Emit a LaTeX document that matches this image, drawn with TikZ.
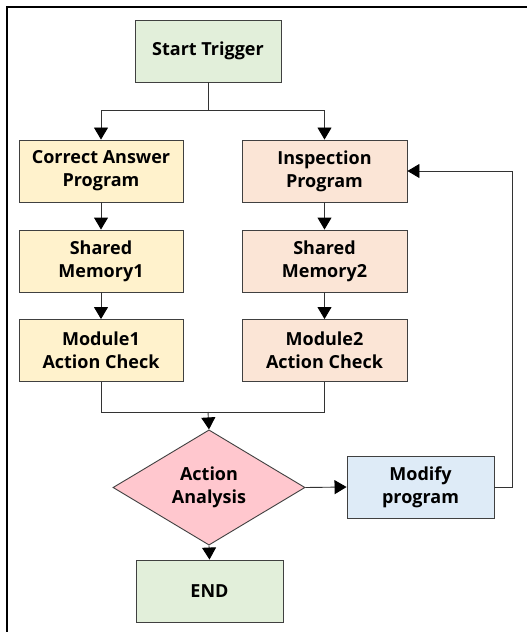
\documentclass[tikz,border=0pt]{standalone}
\usepackage{fontspec}
\setmainfont{Open Sans}
\usetikzlibrary{shapes.geometric,arrows.meta}
\definecolor{startgreen}{HTML}{E2EFDA}
\definecolor{leftyellow}{HTML}{FFF2CC}
\definecolor{rightpeach}{HTML}{FBE5D6}
\definecolor{modblue}{HTML}{DEEBF7}
\definecolor{decpink}{HTML}{FFC7CE}
\definecolor{edgegray}{HTML}{404040}
\tikzset{
  labelfont/.style={font=\fontsize{18bp}{23bp}\selectfont\bfseries},
  box/.style={draw=edgegray, line width=0.9bp, minimum height=62bp, inner sep=0pt,
    align=center, labelfont},
  decision/.style={diamond, draw=edgegray, line width=0.9bp, minimum width=192bp,
    minimum height=85bp, inner sep=0pt, align=center, fill=decpink, labelfont},
  flow/.style={draw=black!80, line width=0.9bp},
  arr/.style={flow, -{Triangle[width=14bp,length=12bp,fill=black,color=black]}},
}
\begin{document}
\begin{tikzpicture}[x=1bp, y=-1bp]
  \useasboundingbox (0,0) rectangle (527,632);
  % frame edges along the top and left
  \draw[line width=1.3bp] (7,632) -- (7,7) -- (527,7);

  \node[box, fill=startgreen, minimum width=146bp] (start) at (208,51) {Start Trigger};

  \node[box, fill=leftyellow, minimum width=164bp] (correct) at (101,171) {Correct Answer\\Program};
  \node[box, fill=leftyellow, minimum width=164bp] (mem1) at (101,261) {Shared\\Memory1};
  \node[box, fill=leftyellow, minimum width=164bp] (mod1) at (101,350.5) {Module1\\Action Check};

  \node[box, fill=rightpeach, minimum width=165bp] (insp) at (324.5,171) {Inspection\\Program};
  \node[box, fill=rightpeach, minimum width=165bp] (mem2) at (324.5,261) {Shared\\Memory2};
  \node[box, fill=rightpeach, minimum width=165bp] (mod2) at (324.5,350.5) {Module2\\Action Check};

  \node[decision] (analysis) at (209,487.5) {Action\\Analysis};
  \node[box, fill=modblue, minimum width=147bp] (modify) at (420.5,487) {Modify\\program};
  \node[box, fill=startgreen, minimum width=147bp] (end) at (209.5,591) {END};

  \coordinate (split) at (208,110);
  \coordinate (merge) at (208,412);
  \coordinate (loop) at (512,487);

  % fan-out from the trigger
  \draw[flow] (start.south) -- (split);
  \draw[arr] (split) -| (correct.north);
  \draw[arr] (split) -| (insp.north);

  % the two chains
  \draw[arr] (correct) -- (mem1);
  \draw[arr] (mem1) -- (mod1);
  \draw[arr] (insp) -- (mem2);
  \draw[arr] (mem2) -- (mod2);

  % merge into the analysis step
  \draw[flow] (mod1.south) |- (merge);
  \draw[flow] (mod2.south) |- (merge);
  \draw[arr] (merge) -- (analysis.north);

  \draw[arr] (analysis.east) -- (modify.west);
  \draw[arr] (analysis.south) -- (end.north);

  % feedback loop back to the inspection program
  \draw[arr] (modify.east) -- (loop) |- (insp.east);
\end{tikzpicture}
\end{document}
